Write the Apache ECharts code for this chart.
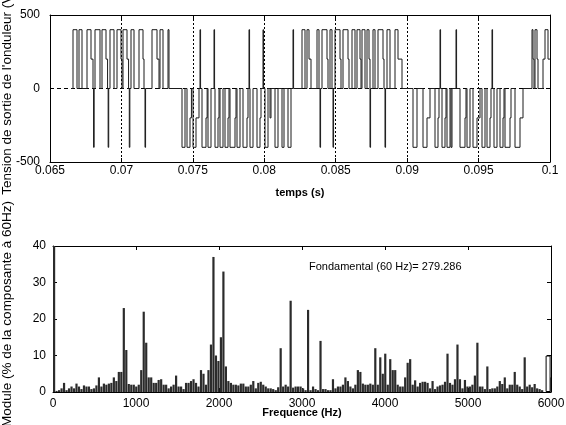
<!DOCTYPE html>
<html>
<head>
<meta charset="utf-8">
<script src="https://cdn.jsdelivr.net/npm/echarts@6/dist/echarts.min.js"></script>
<style>
html,body{margin:0;padding:0;background:#fff;}
#c{width:566px;height:425px;}
</style>
</head>
<body>
<div id="c"></div>
<script>
// ---- Top plot: inverter output voltage, transitions [time (ms), level after (V)] ----
const posHalf1 = [
  [66.50,0],
  [66.61,400],[66.89,0],[67.03,400],[67.24,0],
  [67.59,400],[67.87,200],[68.01,0],[68.05,-400],[68.09,0],
  [68.15,400],[68.50,0],[68.64,400],[68.92,200],[69.03,0],[69.07,-400],[69.11,0],
  [69.20,400],[69.48,0],[69.69,400],[69.97,200],[70.04,0],
  [70.11,400],[70.39,200],[70.50,0],[70.55,-400],[70.59,0],
  [70.67,400],[70.88,0],[71.23,400],[71.51,200],[71.58,0],[71.65,-400],[71.69,0],
  [72.14,400],[72.49,200],[72.63,0],[72.70,400],[72.91,0],
  [73.26,400],[73.33,0]
];
const negHalf1 = [
  [74.24,-400],[74.45,0],[74.59,-400],[74.80,-200],[74.90,0],
  [75.01,-400],[75.22,-200],[75.43,0],[75.50,400],[75.54,0],
  [75.64,-400],[75.92,-200],[76.00,0],[76.06,-400],[76.27,0],[76.48,400],[76.52,0],
  [76.55,-400],[76.76,-200],[76.83,0],[76.90,-400],[77.11,0],
  [77.25,-400],[77.46,-200],[77.53,0],[77.60,-400],[77.95,-200],[78.02,0],
  [78.09,-400],[78.30,0],[78.51,-400],[78.79,-200],[78.86,0],[78.93,400],[78.97,0],
  [79.00,-400],[79.21,0],[79.49,-400],[79.70,-200],[79.77,0],[79.91,400],[79.95,0],
  [80.05,-400],[80.26,0],[80.40,-200],[80.47,0],[80.75,-400],[80.96,0],
  [81.24,-400],[81.38,0],[81.66,-400],[81.87,0]
];
const posHalf2 = [
  [82.01,400],[82.05,0],[82.64,400],[82.85,0],[82.99,400],[83.13,200],[83.27,0],
  [83.69,400],[83.83,0],[83.90,-400],[83.94,0],
  [84.04,400],[84.39,200],[84.46,0],[84.60,400],[84.74,0],[84.81,-400],[84.85,0],
  [84.95,400],[85.30,200],[85.37,0],[85.51,400],[85.86,200],[85.93,0],
  [86.14,400],[86.35,0],[86.49,400],[86.70,200],[86.77,0],[86.84,400],[87.05,0],
  [87.19,400],[87.33,200],[87.40,-400],[87.44,0],[87.61,400],[87.75,0],
  [87.96,400],[88.31,200],[88.38,0],[88.45,-400],[88.49,0],[88.59,400],[88.80,0],
  [89.15,400],[89.36,200],[89.64,0]
];
const negHalf2 = [
  [90.41,-400],[90.69,0],[91.11,-400],[91.39,-200],[91.60,0],
  [91.95,-400],[92.16,-200],[92.23,0],[92.30,400],[92.34,0],
  [92.44,-400],[92.65,-200],[92.72,0],[92.79,-400],[93.00,0],[93.07,-400],[93.14,0],
  [93.42,400],[93.46,0],[93.70,-400],[94.05,-200],[94.12,0],[94.19,-400],[94.40,0],
  [94.61,-400],[94.89,-200],[95.10,0],[95.24,-400],[95.45,0],
  [95.59,-400],[95.80,-200],[95.87,0],[95.94,400],[95.98,0],[96.08,-400],[96.29,0],
  [96.50,-400],[96.71,-200],[96.78,0],[96.85,-400],[97.20,-200],[97.27,0],
  [97.55,-400],[97.90,-200],[98.11,0]
];
const posHalf3 = [
  [98.74,400],[98.81,200],[98.88,0],[98.95,400],[99.09,200],[99.16,0],
  [99.51,200],[99.65,400],[99.86,200],[100,200]
];
const timeTicksMs = [65, 100, 5];      // min, max, step (ms) -> labels in s
const voltTicks = [-500, 500, 500];

// ---- Bottom plot: spectrum, bins of 30 Hz, % of 60 Hz component ----
const spectrumBinHz = 30;
const spectrumPct = [
  100,0.3,0.5,1,2.5,0.5,1,1.5,1,2.3,
  1.5,0.8,1.8,1.5,1.5,0.8,1,1.8,4,1.5,
  2.3,2,2.3,2.5,4,3,5.5,5.5,23,11.5,
  2.2,2,2,1.5,2,6,22,13.5,4,4,
  2.5,2.5,3.3,3.5,2,2,1,1.5,2,4.5,
  1.5,1.5,0.8,2.5,2.5,3,3.5,2.5,1.5,6,
  5,2,6,13,37,10,8.5,15,33,7,
  3,2.5,2,2,1.8,2.3,2.3,1.5,1.5,2,
  3,1,2.5,2.8,2,1.5,1,1,0.8,0.5,
  1.3,12,1.5,2,1.5,25,1.2,1.5,1.5,1.5,
  1,0.5,22.5,0.5,1.5,0.8,0.5,14,0.8,0.8,
  0.5,0.5,3.5,1,1.5,1.5,2,4,3,1.5,
  1,2,6,5.5,2.3,2,2,2.3,2,12,
  2,9.5,5,10.5,2,9,6,6,2,1.5,
  1.5,4,8,9,2,3.2,1.5,2.5,2.8,2.8,
  2.5,1,3,0.8,1.5,1.8,2,2.8,10.5,2.5,
  2,3.5,13,3.5,1,3.3,1.5,1.5,2,4.5,
  13.5,1.5,1.5,0.8,7,0.8,1,1,1.5,3,
  2.2,4,1,2,2,5.5,2,1.5,0.8,9.5,
  1.5,2,1.3,2.2,1,0.8,0.5,0,0,4
];
const hollowBinHz = [5965];
const hollowPct = [10];
const freqTicks = [0, 6000, 1000];
const pctTicks = [0, 40, 10];
const fundamentalText = 'Fondamental (60 Hz)= 279.286';

// step waveform -> individual segments [t0, v0, t1, v1]
const transitions = [].concat(posHalf1, negHalf1, posHalf2, negHalf2, posHalf3);
const segData = [];
transitions.forEach((p, i) => {
  if (i === 0) return;
  const q = transitions[i - 1];
  segData.push([q[0], q[1], p[0], q[1]]);   // hold level
  segData.push([p[0], q[1], p[0], p[1]]);   // vertical edge
});
const specData = spectrumPct.map((v, i) => [(i + 1) * spectrumBinHz, v]);
const hollowData = hollowBinHz.map((f, i) => [f, hollowPct[i]]);

const FONT = 'Liberation Sans, Arial, sans-serif';
const black = '#000';
function frameAxis(extra) {
  return Object.assign({
    axisLine: { show: true, onZero: false, lineStyle: { color: black, width: 1 } },
    axisTick: { show: true, inside: true, length: 4, lineStyle: { color: black } },
    axisLabel: { show: false },
    splitLine: { show: false },
    nameMoveOverlap: false
  }, extra);
}
const lab = (margin, fmt) => ({ show: true, color: black, fontFamily: FONT, fontSize: 12, margin: margin,
  formatter: fmt || (v => String(v)) });

const chart = echarts.init(document.getElementById('c'), null, { renderer: 'canvas' });
chart.setOption({
  backgroundColor: '#fff',
  animation: false,
  grid: [
    { left: 50, right: 16, top: 15, height: 147, outerBoundsMode: 'none', containLabel: false },
    { left: 53, right: 15, top: 246, height: 146, outerBoundsMode: 'none', containLabel: false }
  ],
  xAxis: [
    frameAxis({ gridIndex: 0, type: 'value', position: 'bottom',
      min: timeTicksMs[0], max: timeTicksMs[1], interval: timeTicksMs[2],
      axisLabel: lab(3, v => String(parseFloat((v / 1000).toFixed(3)))),
      splitLine: { show: true, showMinLine: false, showMaxLine: false, lineStyle: { color: black, type: [2, 2], width: 1 } },
      name: 'temps (s)', nameLocation: 'middle', nameGap: 25,
      nameTextStyle: { color: black, fontFamily: FONT, fontSize: 11, fontWeight: 'bold', verticalAlign: 'top' }
    }),
    frameAxis({ gridIndex: 0, type: 'value', position: 'top',
      min: timeTicksMs[0], max: timeTicksMs[1], interval: timeTicksMs[2] }),
    frameAxis({ gridIndex: 1, type: 'value', position: 'bottom',
      min: freqTicks[0], max: freqTicks[1], interval: freqTicks[2],
      axisLabel: lab(6),
      name: 'Frequence (Hz)', nameLocation: 'middle', nameGap: 15,
      nameTextStyle: { color: black, fontFamily: FONT, fontSize: 11, fontWeight: 'bold', verticalAlign: 'top' }
    }),
    frameAxis({ gridIndex: 1, type: 'value', position: 'top',
      min: freqTicks[0], max: freqTicks[1], interval: freqTicks[2] })
  ],
  yAxis: [
    frameAxis({ gridIndex: 0, type: 'value', position: 'left',
      min: voltTicks[0], max: voltTicks[1], interval: voltTicks[2],
      axisLabel: lab(10),
      splitLine: { show: true, showMinLine: false, showMaxLine: false, lineStyle: { color: black, type: [4, 3], width: 1 } },
      name: "Tension de sortie de l'onduleur (V)", nameLocation: 'middle', nameGap: 36,
      nameTextStyle: { color: black, fontFamily: FONT, fontSize: 13.5, padding: [0, 8, 0, 0] }
    }),
    frameAxis({ gridIndex: 0, type: 'value', position: 'right',
      min: voltTicks[0], max: voltTicks[1], interval: voltTicks[2] }),
    frameAxis({ gridIndex: 1, type: 'value', position: 'left',
      min: pctTicks[0], max: pctTicks[1], interval: pctTicks[2],
      axisLabel: lab(7),
      name: 'Module (% de la composante à 60Hz)', nameLocation: 'middle', nameGap: 39,
      nameTextStyle: { color: black, fontFamily: FONT, fontSize: 13.5, padding: [0, 0, 0, 10] }
    }),
    frameAxis({ gridIndex: 1, type: 'value', position: 'right',
      min: pctTicks[0], max: pctTicks[1], interval: pctTicks[2] })
  ],
  graphic: [
    { type: 'text', left: 309, top: 261,
      style: { text: fundamentalText, fill: black, font: '11px ' + FONT } }
  ],
  series: [
    { type: 'custom', xAxisIndex: 0, yAxisIndex: 0, data: segData, clip: true,
      encode: { x: [0, 2], y: [1, 3] },
      renderItem: function (params, api) {
        const a = api.coord([api.value(0), api.value(1)]);
        const b = api.coord([api.value(2), api.value(3)]);
        return { type: 'line', shape: { x1: a[0], y1: a[1], x2: b[0], y2: b[1] },
          style: { stroke: '#1a1a1a', lineWidth: 1 } };
      } },
    { type: 'bar', xAxisIndex: 2, yAxisIndex: 2, data: specData, barWidth: 2.2,
      clip: true, itemStyle: { color: '#2b2b2b' } },
    { type: 'bar', xAxisIndex: 2, yAxisIndex: 2, data: hollowData, barWidth: 5,
      barGap: '-100%', clip: true,
      itemStyle: { color: '#fff', borderColor: black, borderWidth: 1 } }
  ]
});
</script>
</body>
</html>
